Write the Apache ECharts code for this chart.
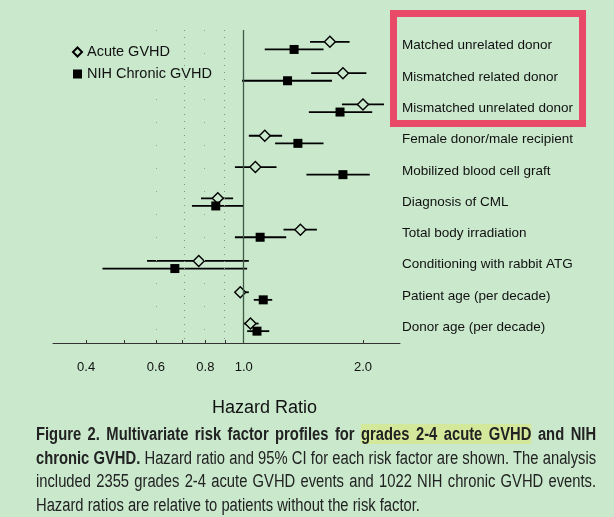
<!DOCTYPE html>
<html>
<head>
<meta charset="utf-8">
<script src="https://cdn.jsdelivr.net/npm/echarts@6/dist/echarts.min.js"></script>
<style>
  html, body { margin: 0; padding: 0; background: #c9e8cc; }
  #chart { width: 614px; height: 517px; position: absolute; left: 0; top: 0; }
  #caption {
    position: absolute; left: 36px; top: 423px; width: 683px;
    transform: scaleX(0.82); transform-origin: left top;
    font-family: "Liberation Sans", Arial, sans-serif;
    font-size: 18px; line-height: 23.5px; color: #222;
  }
  #caption .j { text-align: justify; text-align-last: justify; white-space: nowrap; }
  #caption b { font-weight: bold; }
  #caption .hl { background: #d4e89c; }
</style>
</head>
<body>
<div id="chart"></div>
<div id="caption">
  <div class="j"><b>Figure 2. Multivariate risk factor profiles for <span class="hl">grades 2-4 acute GVHD</span> and NIH</b></div>
  <div class="j"><b>chronic GVHD.</b> Hazard ratio and 95% CI for each risk factor are shown. The analysis</div>
  <div class="j">included 2355 grades 2-4 acute GVHD events and 1022 NIH chronic GVHD events.</div>
  <div>Hazard ratios are relative to patients without the risk factor.</div>
</div>
<script>
// risk factors, top to bottom
const factors = [
  'Matched unrelated donor',
  'Mismatched related donor',
  'Mismatched unrelated donor',
  'Female donor/male recipient',
  'Mobilized blood cell graft',
  'Diagnosis of CML',
  'Total body irradiation',
  'Conditioning with rabbit ATG',
  'Patient age (per decade)',
  'Donor age (per decade)'
];

// hazard ratios with 95% CI
const acuteHR   = [1.65, 1.78, 2.00, 1.13, 1.07, 0.86, 1.39, 0.77, 0.98, 1.04];
const acuteLow  = [1.47, 1.48, 1.77, 1.03, 0.95, 0.78, 1.26, 0.57, 0.95, 1.00];
const acuteHigh = [1.85, 2.04, 2.26, 1.25, 1.21, 0.94, 1.53, 1.03, 1.03, 1.09];

const chronicHR   = [1.34, 1.29, 1.75, 1.37, 1.78, 0.85, 1.10, 0.67, 1.12, 1.08];
const chronicLow  = [1.13, 0.99, 1.46, 1.20, 1.44, 0.74, 0.95, 0.44, 1.06, 1.02];
const chronicHigh = [1.59, 1.67, 2.11, 1.59, 2.08, 1.00, 1.28, 1.02, 1.18, 1.16];

// axis
const tickValues = [0.4, 0.5, 0.6, 0.7, 0.8, 0.9, 1.0, 2.0];
const tickLabels = [0.4, 0.6, 0.8, 1.0, 2.0];
const axisMin = 0.33;
const axisMax = 2.48;

const lg = Math.log10;
const font = '"Liberation Sans", Arial, sans-serif';
const bg = '#c9e8cc';

// ci bars drawn at a small vertical offset from the row centre
function ciSeries(name, low, high, dy) {
  return {
    name: name + ' CI',
    type: 'custom',
    silent: true,
    z: 2,
    renderItem: function (params, api) {
      const a = api.coord([api.value(0), api.value(2)]);
      const b = api.coord([api.value(1), api.value(2)]);
      return {
        type: 'line',
        shape: { x1: a[0], y1: a[1] + dy, x2: b[0], y2: b[1] + dy },
        style: { stroke: '#000', lineWidth: 1.8 }
      };
    },
    encode: { x: [0, 1], y: 2 },
    data: low.map((v, i) => [lg(v), lg(high[i]), i])
  };
}

const chart = echarts.init(document.getElementById('chart'), null, { renderer: 'canvas' });

chart.setOption({
  backgroundColor: bg,
  animation: false,
  textStyle: { fontFamily: font },
  grid: { left: 53, right: 214, top: 30, bottom: 174, containLabel: false },
  legend: {
    orient: 'vertical',
    left: 72,
    top: 44,
    padding: 0,
    itemWidth: 9,
    itemHeight: 9,
    itemGap: 6,
    selectedMode: false,
    textStyle: { fontSize: 14.5, color: '#111', lineHeight: 16, fontFamily: font },
    data: ['Acute GVHD', 'NIH Chronic GVHD']
  },
  xAxis: {
    type: 'value',
    min: lg(axisMin),
    max: lg(axisMax),
    axisLine: { show: true, lineStyle: { color: '#333', width: 1 } },
    axisTick: {
      show: true, inside: true, length: 3,
      customValues: tickValues.map(lg),
      lineStyle: { color: '#333' }
    },
    axisLabel: {
      customValues: tickLabels.map(lg),
      formatter: v => Math.pow(10, v).toFixed(1),
      fontSize: 13, color: '#111', margin: 18, fontFamily: font
    },
    splitLine: { show: false }
  },
  yAxis: {
    type: 'category',
    data: factors,
    inverse: true,
    position: 'right',
    axisLine: { show: false },
    axisTick: { show: false },
    axisLabel: { margin: 2, fontSize: 13.5, color: '#111', fontFamily: font },
    splitLine: { show: false }
  },
  graphic: [
    {
      type: 'rect',
      shape: { x: 393.5, y: 13.5, width: 189, height: 110 },
      style: { fill: 'none', stroke: '#e84a68', lineWidth: 7 },
      z: 10
    },
    {
      type: 'text',
      left: 212,
      top: 399,
      style: { text: 'Hazard Ratio', fontSize: 18, fill: '#111', fontFamily: font }
    }
  ],
  series: [
    ciSeries('Acute GVHD', acuteLow, acuteHigh, -3.8),
    ciSeries('NIH Chronic GVHD', chronicLow, chronicHigh, 3.8),
    {
      name: 'Acute GVHD',
      type: 'scatter',
      z: 4,
      symbol: 'diamond',
      symbolSize: [11, 11],
      symbolOffset: [0, -3.8],
      itemStyle: { color: bg, borderColor: '#000', borderWidth: 1.4, opacity: 1 },
      data: acuteHR.map((v, i) => [lg(v), i]),
      markLine: {
        silent: true,
        symbol: 'none',
        label: { show: false },
        data: [
          { xAxis: lg(1.0), lineStyle: { color: '#3d5a45', width: 1.3, type: 'solid' } },
          { xAxis: lg(0.7), lineStyle: { color: '#7f9484', width: 1, type: [1, 6] } },
          { xAxis: lg(0.9), lineStyle: { color: '#7f9484', width: 1, type: [1, 6] } },
          { xAxis: lg(0.6), lineStyle: { color: '#93a897', width: 1, type: [1, 22] } },
          { xAxis: lg(0.8), lineStyle: { color: '#93a897', width: 1, type: [1, 22] } }
        ]
      }
    },
    {
      name: 'NIH Chronic GVHD',
      type: 'scatter',
      z: 4,
      symbol: 'rect',
      symbolSize: [9, 9],
      symbolOffset: [0, 3.8],
      itemStyle: { color: '#000', opacity: 1 },
      data: chronicHR.map((v, i) => [lg(v), i])
    }
  ]
});
</script>
</body>
</html>
